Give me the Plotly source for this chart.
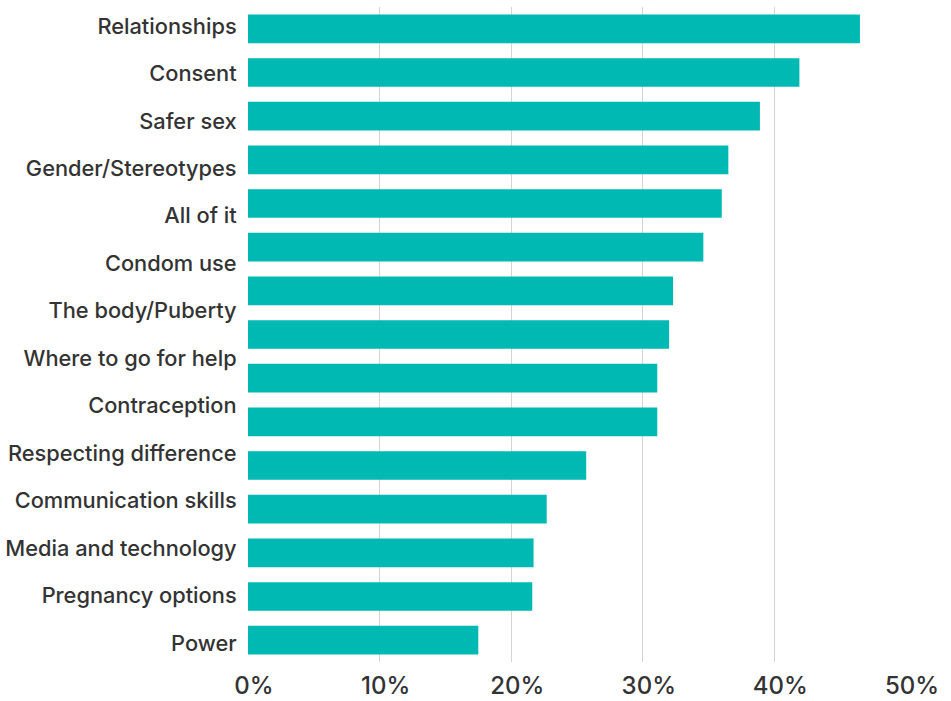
import plotly.graph_objects as go

# Topic labels shown down the left side (top to bottom)
topics = [
    "Relationships", "Consent", "Safer sex", "Gender/Stereotypes", "All of it",
    "Condom use", "The body/Puberty", "Where to go for help", "Contraception",
    "Respecting difference", "Communication skills", "Media and technology",
    "Pregnancy options", "Power",
]

# Bar values in percent (top to bottom)
shares = [46.5, 41.9, 38.9, 36.5, 36.0, 34.6, 32.3, 32.0, 31.1, 31.1,
          25.7, 22.7, 21.7, 21.6, 17.5]

x_ticks = [0, 10, 20, 30, 40, 50]
x_tick_text = ["0%", "10%", "20%", "30%", "40%", "50%"]

TEAL = "#00B9B3"
TEXT = "#333333"
FONT = "Inter"

fig = go.Figure()

fig.add_trace(go.Bar(
    x=shares,
    y=list(range(len(shares))),
    orientation="h",
    marker=dict(color=TEAL, line=dict(width=0)),
    width=0.657,
    hoverinfo="x",
    showlegend=False,
))

# invisible carrier for the label axis
fig.add_trace(go.Scatter(
    x=[0] * len(topics),
    y=topics,
    yaxis="y2",
    mode="markers",
    marker=dict(opacity=0),
    hoverinfo="skip",
    showlegend=False,
))

fig.update_layout(
    width=951,
    height=701,
    margin=dict(l=248, r=45, t=7, b=39, autoexpand=False),
    paper_bgcolor="white",
    plot_bgcolor="white",
    font=dict(family=FONT, color=TEXT),
    xaxis=dict(
        range=[0, 50],
        tickvals=x_ticks,
        ticktext=x_tick_text,
        showgrid=True,
        gridcolor="#d4d4d4",
        gridwidth=1.3,
        zeroline=False,
        showline=False,
        ticks="outside",
        ticklen=2,
        tickcolor="rgba(0,0,0,0)",
        ticklabelshift=6,
        tickfont=dict(size=24, color=TEXT, family=FONT, weight=500),
        automargin=False,
        fixedrange=True,
    ),
    yaxis=dict(
        range=[14.5, -0.5],
        showticklabels=False,
        showgrid=False,
        zeroline=False,
        showline=False,
        automargin=False,
        fixedrange=True,
    ),
    yaxis2=dict(
        overlaying="y",
        side="left",
        type="category",
        categoryorder="array",
        categoryarray=topics,
        range=[13.40, -0.40],
        showgrid=False,
        zeroline=False,
        showline=False,
        ticks="outside",
        ticklen=6,
        tickcolor="rgba(0,0,0,0)",
        tickfont=dict(size=21.8, color=TEXT, family=FONT, weight=500),
        automargin=False,
        fixedrange=True,
    ),
)

fig.write_html("out.html")
